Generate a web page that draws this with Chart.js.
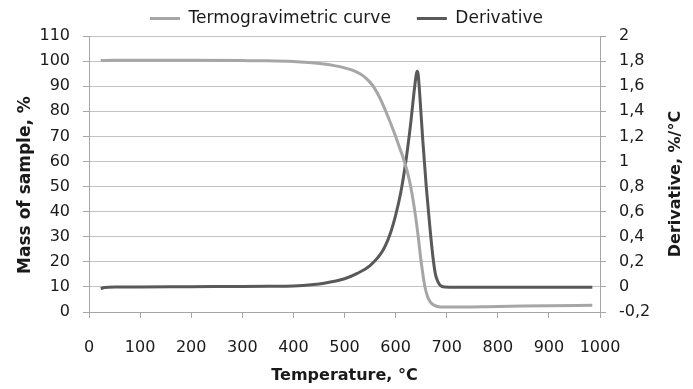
<!DOCTYPE html>
<html>
<head>
<meta charset="utf-8">
<script src="https://cdn.jsdelivr.net/npm/chart.js@4/dist/chart.umd.min.js"></script>
<style>
html,body{margin:0;padding:0;background:#fff;}
#wrap{width:693px;height:389px;position:relative;}
</style>
</head>
<body>
<div id="wrap"><canvas id="c" width="693" height="389"></canvas></div>
<script>
// Data
const tgTemps = [23, 50, 100, 200, 300, 350, 400, 430, 460, 480, 500, 520, 536, 546, 556, 569, 582, 595, 608, 618, 627, 637, 644, 650, 657, 662, 667, 673, 680, 690, 700, 800, 900, 985];
const tgValues = [100.2, 100.3, 100.3, 100.3, 100.2, 100.1, 99.8, 99.4, 98.8, 98.2, 97.3, 96.0, 94.2, 92.4, 90.0, 85.4, 79.4, 72.7, 65.4, 59.5, 52.5, 41.0, 30.5, 20.0, 10.5, 6.5, 4.3, 3.0, 2.3, 2.0, 1.95, 2.2, 2.5, 2.7];
const dtgTemps = [23, 30, 50, 100, 200, 300, 350, 400, 440, 460, 480, 500, 525, 550, 575, 590, 600, 610, 620, 630, 636, 640, 642, 644, 647, 653, 660, 667, 673, 678, 683, 688, 696, 750, 800, 900, 985];
const dtgValues = [-0.014, -0.005, 0, 0, 0.002, 0.003, 0.005, 0.008, 0.02, 0.03, 0.045, 0.065, 0.108, 0.17, 0.29, 0.43, 0.57, 0.75, 1.0, 1.32, 1.55, 1.68, 1.72, 1.70, 1.55, 1.18, 0.80, 0.48, 0.24, 0.10, 0.04, 0.01, 0.0, -0.003, -0.003, -0.002, -0.002];
const seriesNames = ["Termogravimetric curve", "Derivative"];
const xTitle = "Temperature, °C";
const yTitle = "Mass of sample, %";
const y2Title = "Derivative, %/°C";

const gridColor = '#c3c3c3';
const axisColor = '#a6a6a6';
const textColor = '#1a1a1a';
const legendGap = 26;

function pts(xs, ys){ return xs.map((x,i)=>({x:x, y:ys[i]})); }

const legendFix = {
  id:'legendFix',
  beforeInit(chart){
    const orig = chart.legend.fit;
    chart.legend.fit = function(){ orig.call(this); this.height = 34; };
  },
  afterLayout(chart){
    // keep the wide horizontal gap between items but pull the row up
    chart.legend.top -= (legendGap - 8);
  }
};

// vertical axis titles, both reading bottom-to-top like the reference
const sideTitles = {
  id:'sideTitles',
  afterDraw(chart){
    const ctx = chart.ctx;
    const draw = (txt, x, y, size) => {
      ctx.save();
      ctx.translate(x, y);
      ctx.rotate(-Math.PI / 2);
      ctx.font = 'bold ' + size + 'px "DejaVu Sans"';
      ctx.fillStyle = textColor;
      ctx.textAlign = 'center';
      ctx.textBaseline = 'middle';
      ctx.fillText(txt, 0, 0);
      ctx.restore();
    };
    draw(yTitle, 26, 185, 17);
    draw(y2Title, 676, 184, 16);
  }
};

new Chart(document.getElementById('c'), {
  type:'scatter',
  data:{
    datasets:[
      {label:seriesNames[0], data:pts(tgTemps,tgValues), yAxisID:'y', showLine:true,
       borderColor:'#a6a6a6', backgroundColor:'#a6a6a6', borderWidth:3, pointRadius:0,
       cubicInterpolationMode:'monotone'},
      {label:seriesNames[1], data:pts(dtgTemps,dtgValues), yAxisID:'y2', showLine:true,
       borderColor:'#595959', backgroundColor:'#595959', borderWidth:3, pointRadius:0,
       cubicInterpolationMode:'monotone'}
    ]
  },
  plugins:[legendFix, sideTitles],
  options:{
    responsive:false, animation:false,
    layout:{padding:{top:2,left:0,right:0,bottom:0}},
    plugins:{
      tooltip:{enabled:false},
      legend:{display:true, position:'top', align:'center',
        labels:{usePointStyle:true, pointStyle:'line', pointStyleWidth:30, boxHeight:17,
          color:textColor, padding:legendGap,
          font:{family:'DejaVu Sans', size:17}}}
    },
    scales:{
      x:{type:'linear', min:0, max:1000,
        ticks:{stepSize:100, color:textColor, padding:20, maxRotation:0,
          font:{family:'DejaVu Sans', size:16},
          callback:(v)=>String(v)},
        grid:{drawOnChartArea:false, drawTicks:true, tickLength:6, color:axisColor},
        border:{color:axisColor, width:1},
        title:{display:true, text:xTitle, color:textColor, padding:{top:0,bottom:4},
          font:{family:'DejaVu Sans', size:16, weight:'bold'}},
        afterFit(s){ s.height = 77; }
      },
      y:{type:'linear', position:'left', min:0, max:110,
        ticks:{stepSize:10, color:textColor, padding:13,
          font:{family:'DejaVu Sans', size:16}},
        grid:{color:gridColor, tickLength:6, tickColor:axisColor},
        border:{color:axisColor, width:1},
        title:{display:false},
        afterFit(s){ s.width = 89; }
      },
      y2:{type:'linear', position:'right', min:-0.2, max:2,
        ticks:{stepSize:0.2, color:textColor, padding:13,
          font:{family:'DejaVu Sans', size:16},
          callback:(v)=>String(Math.round(v*10)/10).replace('.',',')},
        grid:{drawOnChartArea:false, tickLength:6, color:axisColor},
        border:{color:axisColor, width:1},
        title:{display:false},
        afterFit(s){ s.width = 93; }
      }
    }
  }
});
</script>
</body>
</html>
